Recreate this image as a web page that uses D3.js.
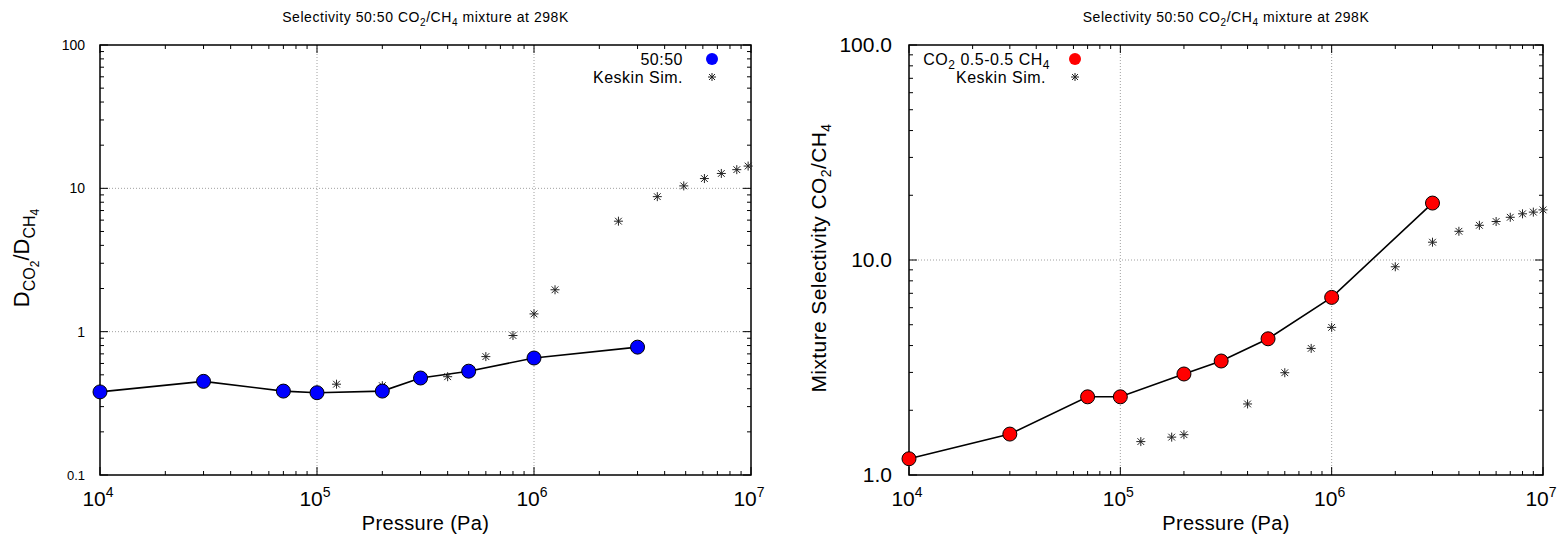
<!DOCTYPE html>
<html><head><meta charset="utf-8">
<script src="https://cdn.jsdelivr.net/npm/d3@7"></script>
<style>body{margin:0;background:#fff}svg{display:block}text{font-family:"Liberation Sans",Arial,sans-serif;fill:#000}</style>
</head><body><svg id="c" width="1561" height="539"></svg>
<script>
// Left panel: diffusivity ratio
const leftP = [1e4, 3e4, 7e4, 1e5, 2e5, 3e5, 5e5, 1e6, 3e6];
const leftV = [0.38, 0.45, 0.385, 0.375, 0.385, 0.475, 0.53, 0.655, 0.78];
const leftKP = [1.23e5, 2e5, 4e5, 6e5, 8e5, 1e6, 1.25e6, 2.45e6, 3.7e6, 4.9e6, 6.1e6, 7.3e6, 8.6e6, 9.7e6];
const leftKV = [0.43, 0.42, 0.485, 0.67, 0.94, 1.33, 1.96, 5.9, 8.75, 10.4, 11.7, 12.7, 13.5, 14.3];
// Right panel: mixture selectivity
const rightP = [1e4, 3e4, 7e4, 1e5, 2e5, 3e5, 5e5, 1e6, 3e6];
const rightV = [1.19, 1.55, 2.31, 2.31, 2.95, 3.39, 4.3, 6.7, 18.4];
const rightKP = [1.25e5, 1.75e5, 2e5, 4e5, 6e5, 8e5, 1e6, 2e6, 3e6, 4e6, 5e6, 6e6, 7e6, 8e6, 9e6, 1e7];
const rightKV = [1.43, 1.5, 1.54, 2.14, 2.99, 3.88, 4.86, 9.3, 12.1, 13.6, 14.5, 15.1, 15.8, 16.4, 16.7, 17.1];
const xTicks = [1e4, 1e5, 1e6, 1e7];
const xTickExp = ["4", "5", "6", "7"];
const leftYTicks = [0.1, 1, 10, 100];
const leftYLabels = ["0.1", "1", "10", "100"];
const rightYTicks = [1, 10, 100];
const rightYLabels = ["1.0", "10.0", "100.0"];

const svg = d3.select("#c");

function star(g, x, y, s) {
  const p = g.append("g").attr("transform", `translate(${x},${y})`)
    .attr("stroke", "#222").attr("stroke-width", 1);
  p.append("line").attr("x1", -s).attr("x2", s).attr("y1", 0).attr("y2", 0);
  p.append("line").attr("x1", 0).attr("x2", 0).attr("y1", -s).attr("y2", s);
  p.append("line").attr("x1", -s*0.75).attr("x2", s*0.75).attr("y1", -s*0.75).attr("y2", s*0.75);
  p.append("line").attr("x1", -s*0.75).attr("x2", s*0.75).attr("y1", s*0.75).attr("y2", -s*0.75);
}

function panel(cfg) {
  const {x0, x1, y0, y1} = cfg;
  const g = svg.append("g");
  const x = d3.scaleLog().domain([1e4, 1e7]).range([x0, x1]);
  const y = d3.scaleLog().domain(cfg.ydom).range([y1, y0]);
  // grid
  [1e5, 1e6].forEach(v => g.append("line").attr("x1", x(v)).attr("x2", x(v)).attr("y1", y0).attr("y2", y1)
    .attr("stroke", "#a0a0a0").attr("stroke-width", 1).attr("stroke-dasharray", "1,2"));
  cfg.grid.forEach(v => g.append("line").attr("x1", x0).attr("x2", x1).attr("y1", y(v)).attr("y2", y(v))
    .attr("stroke", "#a0a0a0").attr("stroke-width", 1).attr("stroke-dasharray", "1,2"));
  // ticks (mirrored, inward)
  const tk = g.append("g").attr("stroke", "#000").attr("stroke-width", 1);
  const xminor = [];
  for (let e = 4; e < 7; e++) for (let m = 2; m <= 9; m++) xminor.push(m * Math.pow(10, e));
  xminor.forEach(v => {
    tk.append("line").attr("x1", x(v)).attr("x2", x(v)).attr("y1", y1).attr("y2", y1 - 4);
    tk.append("line").attr("x1", x(v)).attr("x2", x(v)).attr("y1", y0).attr("y2", y0 + 4);
  });
  xTicks.forEach(v => {
    tk.append("line").attr("x1", x(v)).attr("x2", x(v)).attr("y1", y1).attr("y2", y1 - 8);
    tk.append("line").attr("x1", x(v)).attr("x2", x(v)).attr("y1", y0).attr("y2", y0 + 8);
  });
  const yminor = [];
  const [ya, yb] = cfg.ydom;
  for (let e = Math.log10(ya); e < Math.log10(yb); e++) for (let m = 2; m <= 9; m++) yminor.push(m * Math.pow(10, e));
  yminor.forEach(v => {
    tk.append("line").attr("x1", x0).attr("x2", x0 + 4).attr("y1", y(v)).attr("y2", y(v));
    tk.append("line").attr("x1", x1).attr("x2", x1 - 4).attr("y1", y(v)).attr("y2", y(v));
  });
  cfg.yTicks.forEach(v => {
    tk.append("line").attr("x1", x0).attr("x2", x0 + 8).attr("y1", y(v)).attr("y2", y(v));
    tk.append("line").attr("x1", x1).attr("x2", x1 - 8).attr("y1", y(v)).attr("y2", y(v));
  });
  // frame
  g.append("rect").attr("x", x0).attr("y", y0).attr("width", x1 - x0).attr("height", y1 - y0)
    .attr("fill", "none").attr("stroke", "#000").attr("stroke-width", 1.5);
  // x tick labels
  xTicks.forEach((v, i) => {
    const t = g.append("text").attr("x", x(v) - 2).attr("y", y1 + 31).attr("text-anchor", "middle")
      .style("font-size", "21px");
    t.append("tspan").text("10");
    t.append("tspan").attr("dy", -9).style("font-size", "14px").text(xTickExp[i]);
  });
  // y tick labels
  cfg.yTicks.forEach((v, i) => {
    g.append("text").attr("x", x0 - cfg.ylabOff).attr("y", y(v)).attr("dy", "0.35em").attr("text-anchor", "end")
      .style("font-size", cfg.yfs(i)).text(cfg.yLabels[i]);
  });
  // axis title
  g.append("text").attr("x", (x0 + x1) / 2).attr("y", y1 + 55).attr("text-anchor", "middle")
    .style("font-size", "20px").style("letter-spacing", "0.3px").text("Pressure (Pa)");
  // chart title
  const tt = g.append("text").attr("x", (x0 + x1) / 2).attr("y", 22).attr("text-anchor", "middle")
    .style("font-size", "14px").style("letter-spacing", "0.55px");
  tt.append("tspan").text("Selectivity 50:50 CO");
  tt.append("tspan").attr("dy", 4).style("font-size", "10px").text("2");
  tt.append("tspan").attr("dy", -4).text("/CH");
  tt.append("tspan").attr("dy", 4).style("font-size", "10px").text("4");
  tt.append("tspan").attr("dy", -4).text(" mixture at 298K");
  // line
  const line = d3.line().x(d => x(d[0])).y(d => y(d[1]));
  g.append("path").datum(cfg.P.map((p, i) => [p, cfg.V[i]])).attr("d", line)
    .attr("fill", "none").attr("stroke", "#000").attr("stroke-width", 1.6);
  cfg.KP.forEach((p, i) => star(g, x(p), y(cfg.KV[i]), 4.5));
  cfg.P.forEach((p, i) => g.append("circle").attr("cx", x(p)).attr("cy", y(cfg.V[i])).attr("r", 7)
    .attr("fill", cfg.color).attr("stroke", "#000").attr("stroke-width", 1));
  return g;
}

const gl = panel({x0: 100, x1: 751, y0: 45, y1: 475, ydom: [0.1, 100], grid: [1, 10],
  yTicks: leftYTicks, yLabels: leftYLabels, ylabOff: 15, yfs: i => i === 0 ? "13px" : "14px",
  P: leftP, V: leftV, KP: leftKP, KV: leftKV, color: "#0000ff"});
const gr = panel({x0: 909, x1: 1543, y0: 45, y1: 475, ydom: [1, 100], grid: [10],
  yTicks: rightYTicks, yLabels: rightYLabels, ylabOff: 17, yfs: i => "21px",
  P: rightP, V: rightV, KP: rightKP, KV: rightKV, color: "#ff0000"});

// left y-axis title
const yl = gl.append("text").attr("transform", "translate(29,258) rotate(-90)").attr("text-anchor", "middle").style("font-size", "22px");
yl.append("tspan").text("D");
yl.append("tspan").attr("dy", 6).style("font-size", "16px").text("CO");
yl.append("tspan").attr("dy", 4).style("font-size", "12px").text("2");
yl.append("tspan").attr("dy", -10).text("/D");
yl.append("tspan").attr("dy", 6).style("font-size", "16px").text("CH");
yl.append("tspan").attr("dy", 4).style("font-size", "12px").text("4");
// right y-axis title
const yr = gr.append("text").attr("transform", "translate(826,258) rotate(-90)").attr("text-anchor", "middle")
  .style("font-size", "21px").style("letter-spacing", "0.4px");
yr.append("tspan").text("Mixture Selectivity CO");
yr.append("tspan").attr("dy", 5).style("font-size", "14px").text("2");
yr.append("tspan").attr("dy", -5).text("/CH");
yr.append("tspan").attr("dy", 5).style("font-size", "14px").text("4");

// legends
const lg = {"font-size": "16px", "letter-spacing": "0.5px"};
function lt(g, x, y) {
  return g.append("text").attr("x", x).attr("y", y).attr("dy", "0.35em").attr("text-anchor", "end")
    .style("font-size", lg["font-size"]).style("letter-spacing", lg["letter-spacing"]);
}
lt(gl, 683, 59).text("50:50");
gl.append("circle").attr("cx", 712).attr("cy", 59).attr("r", 6).attr("fill", "#0000ff");
lt(gl, 683, 77).text("Keskin Sim.");
star(gl, 712, 77, 4);

const lr = lt(gr, 1050, 59);
lr.append("tspan").text("CO");
lr.append("tspan").attr("dy", 4).style("font-size", "12px").text("2");
lr.append("tspan").attr("dy", -4).text(" 0.5-0.5 CH");
lr.append("tspan").attr("dy", 4).style("font-size", "12px").text("4");
gr.append("circle").attr("cx", 1075).attr("cy", 59).attr("r", 6).attr("fill", "#ff0000");
lt(gr, 1046, 77).text("Keskin Sim.");
star(gr, 1075, 77, 4);
</script></body></html>
